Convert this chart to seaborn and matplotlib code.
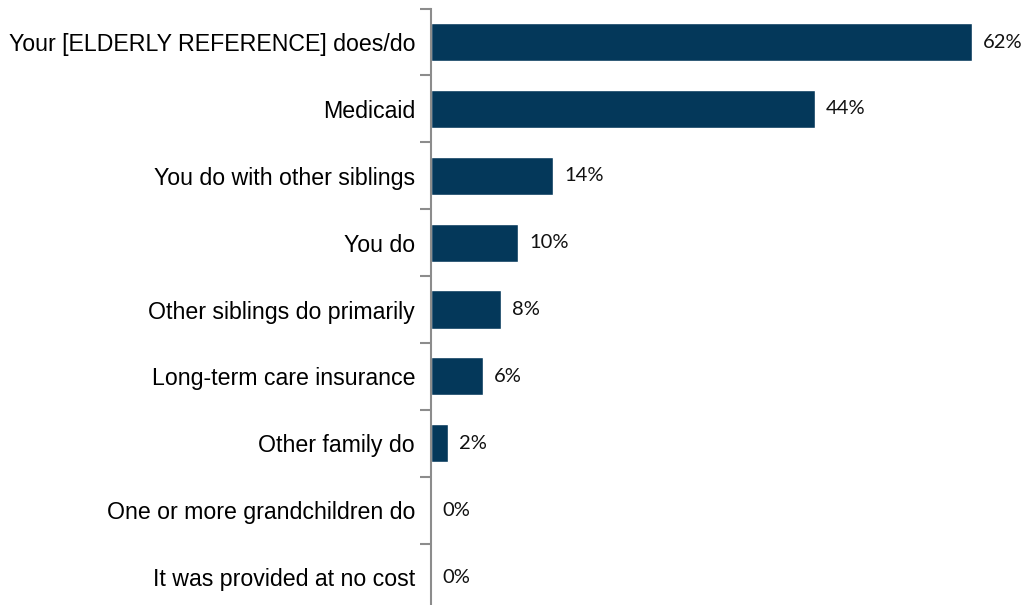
import matplotlib
matplotlib.use("Agg")
import matplotlib.pyplot as plt
import seaborn as sns
import pandas as pd
import numpy as np

# who pays for care
categories = [
    "Your [ELDERLY REFERENCE] does/do",
    "Medicaid",
    "You do with other siblings",
    "You do",
    "Other siblings do primarily",
    "Long-term care insurance",
    "Other family do",
    "One or more grandchildren do",
    "It was provided at no cost",
]
values = [62, 44, 14, 10, 8, 6, 2, 0, 0]

df = pd.DataFrame({"category": categories, "pct": values})

sns.set_theme(style="white")
plt.rcParams['font.family'] = ['Liberation Sans', 'DejaVu Sans']

fig = plt.figure(figsize=(10.26, 6.05), dpi=100)
ax = fig.add_axes([431 / 1026, -0.009, (1024 - 431) / 1026, 0.9948])

sns.barplot(data=df, x="pct", y="category", color="#04385A", width=0.57,
            saturation=1, ax=ax, orient="h")

for i, v in enumerate(values):
    ax.text(v + 1.25, i, f"{v}%", va="center", ha="left", fontsize=14.5,
            family="Lato", color="#111111")

ax.set_xlim(0, 68)
ax.set_ylim(len(categories) - 0.5, -0.5)
ax.set_xlabel("")
ax.set_ylabel("")
ax.set_xticks([])
ax.tick_params(axis="y", which="major", length=0, labelsize=16.7, pad=11.5,
               labelcolor="black")
ax.set_yticks(np.arange(-0.5, len(categories)), minor=True)
ax.tick_params(axis="y", which="minor", left=True, length=8, width=1.5,
               color="#8c8c8c")
for s in ["top", "right", "bottom"]:
    ax.spines[s].set_visible(False)
ax.spines["left"].set_color("#8c8c8c")
ax.spines["left"].set_linewidth(1.5)

fig.savefig("out.png", dpi=100)
